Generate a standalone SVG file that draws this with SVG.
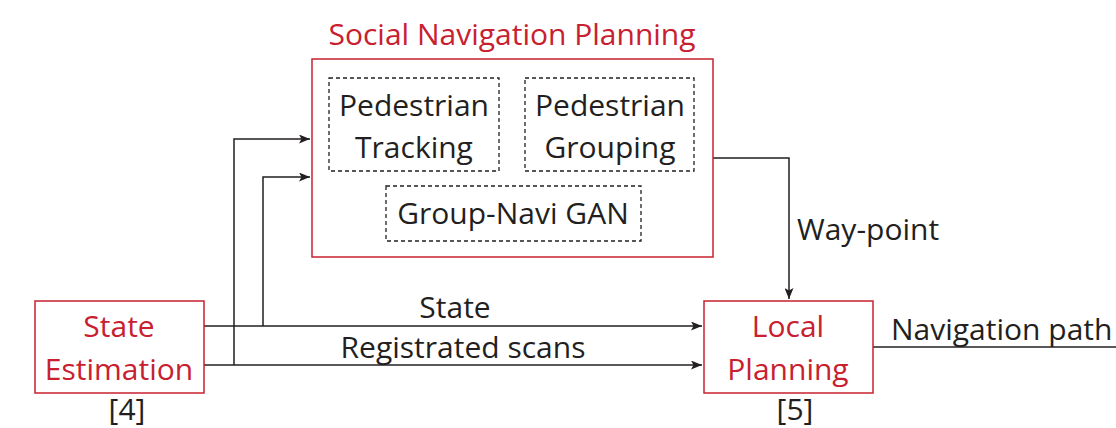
<svg xmlns="http://www.w3.org/2000/svg" width="1116" height="428" viewBox="0 0 1116 428">
<style>
text{font-family:"Open Sans","Noto Sans",sans-serif;font-size:30px;fill:#231f20;text-anchor:middle}
.red{fill:#c8202f}
.box{fill:#fff;stroke:#c8202f;stroke-width:1.5}
.dash{fill:none;stroke:#231f20;stroke-width:1.3;stroke-dasharray:4 3}
.ln{fill:none;stroke:#231f20;stroke-width:1.5}
</style>
<defs>
<marker id="ah" viewBox="0 0 11 9" refX="11" refY="4.5" markerWidth="11" markerHeight="9" markerUnits="userSpaceOnUse" orient="auto">
<path d="M0,0 L11,4.5 L0,9 L2.5,4.5 Z" fill="#231f20"/>
</marker>
</defs>
<g id="connectors">
<path class="ln" d="M204,326 H702" marker-end="url(#ah)"/>
<path class="ln" d="M204,365 H702" marker-end="url(#ah)"/>
<path class="ln" d="M234,365 V139 H310" marker-end="url(#ah)"/>
<path class="ln" d="M263,326 V177 H310" marker-end="url(#ah)"/>
<path class="ln" d="M713,158 H789 V299" marker-end="url(#ah)"/>
<path class="ln" d="M873,347 H1116"/>
<text x="455" y="318">State</text>
<text x="463" y="358">Registrated scans</text>
<text x="797" y="240" style="text-anchor:start">Way-point</text>
<text x="891" y="340" style="text-anchor:start">Navigation path</text>
</g>
<g id="social-navigation-planning">
<rect class="box" x="312" y="59" width="401" height="198"/>
<text class="red" x="512" y="45">Social Navigation Planning</text>
</g>
<g id="pedestrian-tracking">
<rect class="dash" x="329" y="78" width="170" height="93"/>
<text x="414" y="116">Pedestrian</text>
<text x="414" y="158">Tracking</text>
</g>
<g id="pedestrian-grouping">
<rect class="dash" x="525" y="78" width="169" height="93"/>
<text x="610" y="116">Pedestrian</text>
<text x="610" y="158">Grouping</text>
</g>
<g id="group-navi-gan">
<rect class="dash" x="386" y="186" width="255" height="55"/>
<text x="513" y="224">Group-Navi GAN</text>
</g>
<g id="state-estimation">
<rect class="box" x="35" y="301" width="169" height="92"/>
<text class="red" x="119" y="337">State</text>
<text class="red" x="119" y="380">Estimation</text>
<text x="127" y="420">[4]</text>
</g>
<g id="local-planning">
<rect class="box" x="704" y="301" width="169" height="92"/>
<text class="red" x="788" y="337">Local</text>
<text class="red" x="788" y="380">Planning</text>
<text x="795" y="420">[5]</text>
</g>
</svg>
